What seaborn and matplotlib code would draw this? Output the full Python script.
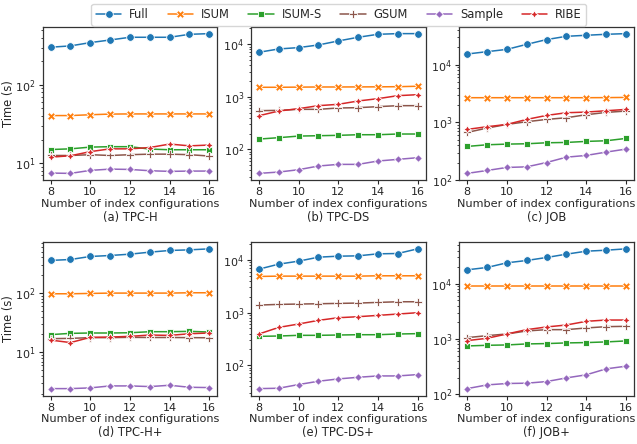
import numpy as np
import pandas as pd
import matplotlib
matplotlib.use("Agg")
import matplotlib.pyplot as plt
import seaborn as sns

x_values = [8, 9, 10, 11, 12, 13, 14, 15, 16]
methods = ["Full", "ISUM", "ISUM-S", "GSUM", "Sample", "RIBE"]
subtitles = ["(a) TPC-H", "(b) TPC-DS", "(c) JOB", "(d) TPC-H+", "(e) TPC-DS+", "(f) JOB+"]

tpch_full = [303, 315, 347, 375, 406, 406, 406, 443, 452]
tpch_isum = [40.5, 40.5, 41.5, 42.3, 42.5, 42.5, 42.5, 42.5, 42.5]
tpch_isums = [14.9, 15.2, 16.0, 16.2, 16.2, 15.1, 14.8, 14.8, 14.8]
tpch_gsum = [12.5, 12.5, 12.8, 12.5, 12.8, 13.0, 13.0, 12.8, 12.3]
tpch_sample = [7.45, 7.38, 8.06, 8.37, 8.29, 7.98, 7.83, 7.9, 7.9]
tpch_ribe = [11.9, 12.4, 14.0, 15.2, 15.2, 15.8, 17.5, 16.6, 17.0]

tpcds_full = [7050, 8150, 8650, 9710, 11570, 13600, 15500, 15960, 15960]
tpcds_isum = [1520, 1520, 1530, 1540, 1540, 1545, 1550, 1560, 1590]
tpcds_isums = [157, 167, 179, 182, 185, 190, 190, 196, 196]
tpcds_gsum = [545, 553, 578, 578, 613, 622, 650, 679, 679]
tpcds_sample = [34.9, 37.0, 41.0, 48.2, 51.8, 51.8, 60.0, 64.5, 69.4]
tpcds_ribe = [437, 537, 595, 679, 720, 833, 923, 1052, 1099]

job_full = [15300, 16800, 18400, 22500, 27200, 31000, 32300, 33600, 34500]
job_isum = [2680, 2680, 2680, 2680, 2680, 2680, 2680, 2690, 2710]
job_isums = [384, 410, 421, 427, 444, 450, 469, 481, 528]
job_gsum = [671, 798, 923, 1028, 1127, 1205, 1359, 1490, 1573]
job_sample = [131, 147, 166, 170, 202, 250, 268, 306, 345]
job_ribe = [757, 842, 923, 1127, 1322, 1471, 1510, 1592, 1680]

tpchp_full = [356, 369, 415, 431, 454, 491, 524, 537, 558]
tpchp_isum = [97.4, 97.4, 98.7, 100, 100, 100, 100, 101.3, 101.3]
tpchp_isums = [19.9, 20.9, 21.2, 21.2, 21.4, 22.3, 22.3, 22.6, 22.0]
tpchp_gsum = [17.0, 17.2, 17.7, 17.7, 17.9, 17.8, 17.8, 17.7, 17.6]
tpchp_sample = [2.44, 2.44, 2.51, 2.71, 2.71, 2.64, 2.78, 2.57, 2.54]
tpchp_ribe = [16.1, 14.6, 17.9, 18.1, 18.6, 19.6, 19.3, 20.6, 21.2]

tpcdsp_full = [6660, 8280, 9440, 11230, 11730, 11900, 13000, 13180, 16150]
tpcdsp_isum = [4840, 4910, 4910, 4910, 4910, 4910, 4980, 4980, 4980]
tpcdsp_isums = [354, 359, 370, 370, 375, 380, 380, 392, 398]
tpcdsp_gsum = [1387, 1428, 1450, 1469, 1492, 1514, 1557, 1603, 1603]
tpcdsp_sample = [36.1, 36.7, 43.1, 49.8, 55.1, 59.2, 62.8, 62.8, 66.6]
tpcdsp_ribe = [392, 523, 606, 711, 798, 834, 884, 937, 994]

jobp_full = [17900, 19740, 23970, 26420, 29940, 34380, 38920, 40570, 42920]
jobp_isum = [9200, 9200, 9200, 9200, 9200, 9200, 9200, 9200, 9200]
jobp_isums = [747, 768, 779, 813, 825, 848, 860, 884, 921]
jobp_gsum = [1057, 1148, 1231, 1397, 1475, 1475, 1582, 1671, 1694]
jobp_sample = [126, 147, 156, 158, 169, 197, 224, 287, 321]
jobp_ribe = [933, 1028, 1231, 1475, 1649, 1791, 2086, 2203, 2203]

panels = [
    [tpch_full, tpch_isum, tpch_isums, tpch_gsum, tpch_sample, tpch_ribe],
    [tpcds_full, tpcds_isum, tpcds_isums, tpcds_gsum, tpcds_sample, tpcds_ribe],
    [job_full, job_isum, job_isums, job_gsum, job_sample, job_ribe],
    [tpchp_full, tpchp_isum, tpchp_isums, tpchp_gsum, tpchp_sample, tpchp_ribe],
    [tpcdsp_full, tpcdsp_isum, tpcdsp_isums, tpcdsp_gsum, tpcdsp_sample, tpcdsp_ribe],
    [jobp_full, jobp_isum, jobp_isums, jobp_gsum, jobp_sample, jobp_ribe],
]

sns.set_theme(style="ticks")
plt.rcParams['font.family'] = ['DejaVu Sans']

palette = {"Full": "#1f77b4", "ISUM": "#ff7f0e", "ISUM-S": "#2ca02c",
           "GSUM": "#8c564b", "Sample": "#9467bd", "RIBE": "#d62728"}
markers = {"Full": "o", "ISUM": "X", "ISUM-S": (4, 0, 45), "GSUM": "P",
           "Sample": (4, 0, 0), "RIBE": (4, 1, 0)}

fig, axes = plt.subplots(2, 3, figsize=(6.37, 4.44), dpi=100)
fig.subplots_adjust(left=0.067, right=0.995, top=0.94, bottom=0.109,
                    wspace=0.193, hspace=0.40)

fs = 8.15
handles = labels = None
for i, ax in enumerate(axes.flat):
    rows = []
    for m, vals in zip(methods, panels[i]):
        for xv, yv in zip(x_values, vals):
            rows.append({"k": xv, "time": yv, "method": m})
    df = pd.DataFrame(rows)
    sns.lineplot(data=df, x="k", y="time", hue="method", style="method",
                 hue_order=methods, style_order=methods, palette=palette,
                 markers=markers, dashes=False, linewidth=1.1,
                 markersize=5.5, markeredgecolor="white", markeredgewidth=0.6,
                 ax=ax)
    ax.set_yscale("log")
    if i == 0:
        handles, labels = ax.get_legend_handles_labels()
    if ax.get_legend() is not None:
        ax.get_legend().remove()
    ax.set_xticks([8, 10, 12, 14, 16])
    ax.tick_params(axis="both", labelsize=8.0, length=3, width=0.8, pad=2)
    ax.tick_params(axis="y", which="minor", length=1.8, width=0.6)
    ax.set_xlabel("Number of index configurations", fontsize=fs, labelpad=1)
    ax.set_ylabel("Time (s)" if i % 3 == 0 else "", fontsize=8.3, labelpad=0.5)
    ax.text(0.5, -0.243, subtitles[i], transform=ax.transAxes, ha="center",
            va="center", fontsize=8.3)
    for s in ax.spines.values():
        s.set_visible(True)
        s.set_linewidth(0.9)
        s.set_color("#333333")

fig.legend(handles, labels, loc="upper center", bbox_to_anchor=(0.532, 1.005),
           ncol=6, fontsize=8.3, frameon=True, handlelength=2.2,
           columnspacing=1.6, handletextpad=0.7, borderpad=0.4)

fig.savefig("out.png", dpi=100)
